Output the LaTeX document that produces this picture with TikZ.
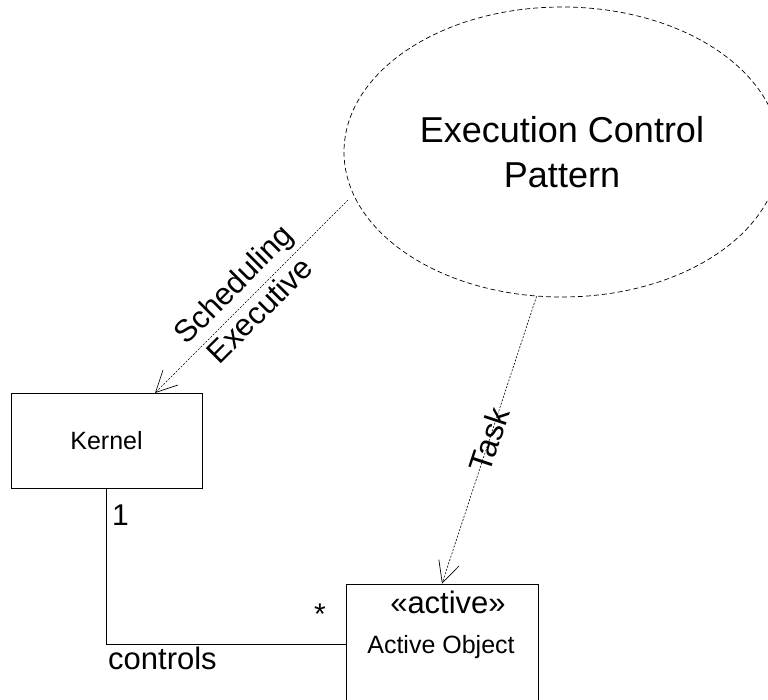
\documentclass[tikz,border=0pt]{standalone}
\usepackage{fontspec}
\setmainfont{Liberation Sans}
\usetikzlibrary{arrows.meta,shapes.geometric}
\begin{document}
\begin{tikzpicture}[x=1pt,y=-1pt,
  classbox/.style={draw, line width=0.8pt, inner sep=0pt},
  pattern/.style={draw, ellipse, dash pattern=on 5pt off 3pt, line width=0.7pt, inner sep=0pt, align=center},
  dep/.style={draw, dash pattern=on 2pt off 1.5pt, line width=0.6pt,
    -{Straight Barb[length=21pt,width=21pt,line width=0.7pt]}},
  assoc/.style={draw, line width=0.8pt},
  lbl/.style={inner sep=0pt},
]
\useasboundingbox (0,0) rectangle (768,700);
\fill[white] (0,0) rectangle (768,700);
\clip (0,0) rectangle (768,700);

% collaboration (pattern) ellipse
\node[pattern, minimum width=436pt, minimum height=290pt,
      font=\fontsize{36}{45}\selectfont] (ecp) at (562,152)
  {Execution Control\\Pattern};

% classes
\node[classbox, minimum width=191pt, minimum height=95pt,
      font=\fontsize{25}{30}\selectfont] (kernel) at (106.5,440.5) {Kernel};
\node[classbox, minimum width=192pt, minimum height=120pt] (active) at (442,644) {};
\node[lbl, anchor=base, font=\fontsize{31}{37}\selectfont] (stereo) at (448,613) {«active»};
\node[lbl, anchor=base, font=\fontsize{25}{30}\selectfont] (aname) at (441,653) {Active Object};

% dependency ends on the class boxes
\coordinate (kin) at (155,393);
\coordinate (sin) at (348,200);

% role dependencies
\draw[dep] (sin) -- (kin);
\node[lbl, rotate=45, align=center, font=\fontsize{31}{37}\selectfont] (schedlbl)
  at (246,297) {Scheduling\\Executive};
\draw[dep] (ecp.260.6) -- (active.north)
  node[lbl, pos=0.5, sloped, font=\fontsize{32}{38}\selectfont] (tasklbl) {Task};

% association
\draw[assoc] (kernel.south) |- (active.west);
\node[lbl, anchor=base west, font=\fontsize{30}{36}\selectfont] (m1) at (112,525) {1};
\node[lbl, anchor=base, font=\fontsize{30}{36}\selectfont] (mstar) at (320,624) {*};
\node[lbl, anchor=base west, font=\fontsize{31}{37}\selectfont] (ctl) at (108,669) {controls};
\end{tikzpicture}
\end{document}
